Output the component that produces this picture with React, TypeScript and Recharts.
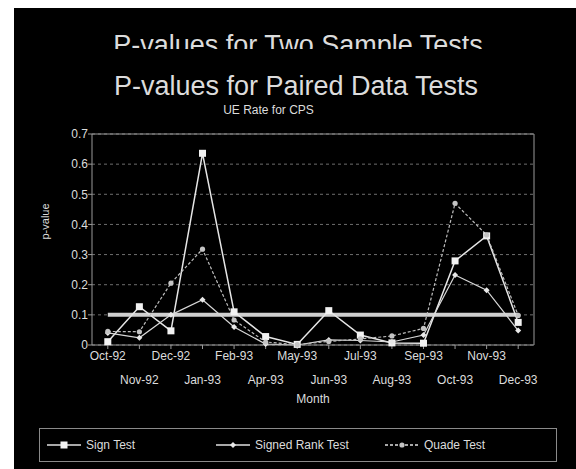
import React from "react";
import {
  LineChart,
  Line,
  XAxis,
  YAxis,
  CartesianGrid,
  ReferenceLine,
  Legend,
} from "recharts";

const MONTHS = [
  "Oct-92", "Nov-92", "Dec-92", "Jan-93", "Feb-93", "Apr-93", "May-93",
  "Jun-93", "Jul-93", "Aug-93", "Sep-93", "Oct-93", "Nov-93", "Dec-93",
];
const SIGN_TEST = [0.011, 0.127, 0.047, 0.636, 0.11, 0.028, 0.002, 0.114, 0.033, 0.007, 0.006, 0.279, 0.362, 0.075];
const SIGNED_RANK_TEST = [0.04, 0.024, 0.1, 0.15, 0.06, 0.003, 0.0, 0.017, 0.015, 0.01, 0.033, 0.232, 0.182, 0.048];
const QUADE_TEST = [0.045, 0.044, 0.205, 0.318, 0.083, 0.01, 0.001, 0.012, 0.02, 0.03, 0.055, 0.47, 0.365, 0.098];
const Y_TICKS = [0, 0.1, 0.2, 0.3, 0.4, 0.5, 0.6, 0.7];
const THRESHOLD = 0.1;

const data = MONTHS.map((month, i) => ({
  month,
  sign: SIGN_TEST[i],
  rank: SIGNED_RANK_TEST[i],
  quade: QUADE_TEST[i],
}));

const FONT = "'Liberation Sans', Arial, sans-serif";
const TEXT = "#dcdcdc";
const AXIS = "#9a9a9a";

function SquareDot(props: any) {
  const { cx, cy, index } = props;
  if (cx == null || cy == null) return null;
  return <rect key={`sq-${index}`} x={cx - 3.5} y={cy - 3.5} width={7} height={7} fill="#f2f2f2" />;
}

function DiamondDot(props: any) {
  const { cx, cy, index } = props;
  if (cx == null || cy == null) return null;
  return (
    <path
      key={`dm-${index}`}
      d={`M${cx},${cy - 3} L${cx + 3},${cy} L${cx},${cy + 3} L${cx - 3},${cy} Z`}
      fill="#e8e8e8"
    />
  );
}

function CircleDot(props: any) {
  const { cx, cy, index } = props;
  if (cx == null || cy == null) return null;
  return <circle key={`ci-${index}`} cx={cx} cy={cy} r={2.6} fill="#c4c4c4" />;
}

function MonthTick(props: any) {
  const { x, y, payload, index } = props;
  return (
    <text
      x={x}
      y={y}
      dy={index % 2 === 0 ? 9 : 33}
      textAnchor="middle"
      fill={TEXT}
      fontSize={12}
    >
      {payload.value}
    </text>
  );
}

// where each legend entry sits inside the box
const LEGEND_SLOTS: Record<string, { line: number; text: number }> = {
  sign: { line: 7, text: 46 },
  rank: { line: 176, text: 215 },
  quade: { line: 345, text: 384 },
};

function LegendMarker({ kind }: { kind: string }) {
  return (
    <svg width={34} height={10} style={{ display: "block" }}>
      <line
        x1={0}
        x2={34}
        y1={5}
        y2={5}
        stroke="#e0e0e0"
        strokeWidth={1.5}
        strokeDasharray={kind === "quade" ? "3 2" : undefined}
      />
      {kind === "sign" && <rect x={13.5} y={1.5} width={7} height={7} fill="#f2f2f2" />}
      {kind === "rank" && <path d="M17,2 L20,5 L17,8 L14,5 Z" fill="#e8e8e8" />}
      {kind === "quade" && <circle cx={17} cy={5} r={2.6} fill="#c4c4c4" />}
    </svg>
  );
}

function LegendBox({ payload }: any) {
  return (
    <div
      style={{
        position: "relative",
        width: 518,
        height: 34,
        border: "1.5px solid #8a8a8a",
        boxSizing: "border-box",
      }}
    >
      {(payload || []).map((p: any) => {
        const slot = LEGEND_SLOTS[p.dataKey] || LEGEND_SLOTS.sign;
        return (
          <React.Fragment key={p.value}>
            <div style={{ position: "absolute", left: slot.line, top: 11 }}>
              <LegendMarker kind={p.dataKey} />
            </div>
            <div
              style={{
                position: "absolute",
                left: slot.text,
                top: 9,
                fontSize: 12,
                lineHeight: "14px",
                color: TEXT,
                whiteSpace: "nowrap",
              }}
            >
              {p.value}
            </div>
          </React.Fragment>
        );
      })}
    </div>
  );
}

export default function App() {
  return (
    <div
      style={{
        position: "absolute",
        left: 14,
        top: 8,
        width: 562,
        height: 461,
        background: "#000",
        fontFamily: FONT,
        overflow: "hidden",
      }}
    >
      <LineChart
        width={562}
        height={461}
        data={data}
        margin={{ top: 126, right: 41, left: 24, bottom: 30 }}
      >
        <CartesianGrid vertical={false} stroke="#6e6e6e" strokeDasharray="3 3" />
        <XAxis
          dataKey="month"
          interval={0}
          height={60}
          padding={{ left: 15.8, right: 15.8 }}
          tick={<MonthTick />}
          tickSize={4}
          tickMargin={2}
          axisLine={{ stroke: AXIS }}
          tickLine={{ stroke: AXIS }}
          label={{ value: "Month", position: "insideBottom", offset: 2, fill: TEXT, fontSize: 12 }}
        />
        <YAxis
          domain={[0, 0.7]}
          ticks={Y_TICKS}
          width={54}
          tickSize={4}
          tickMargin={0}
          tick={{ fill: TEXT, fontSize: 12 }}
          axisLine={{ stroke: AXIS }}
          tickLine={{ stroke: AXIS }}
          label={{ value: "p-value", angle: -90, position: "insideLeft", offset: 7, fill: TEXT, fontSize: 11 }}
        />
        <YAxis
          yAxisId="right"
          orientation="right"
          domain={[0, 0.7]}
          width={1}
          tick={false}
          tickLine={false}
          axisLine={{ stroke: AXIS }}
        />
        <ReferenceLine y={0.7} stroke={AXIS} />
        <ReferenceLine
          segment={[
            { x: MONTHS[0], y: THRESHOLD },
            { x: MONTHS[MONTHS.length - 1], y: THRESHOLD },
          ]}
          stroke="#cfcfcf"
          strokeWidth={4}
        />
        <Line
          dataKey="sign"
          name="Sign Test"
          stroke="#e6e6e6"
          strokeWidth={1.5}
          dot={SquareDot}
          isAnimationActive={false}
        />
        <Line
          dataKey="rank"
          name="Signed Rank Test"
          stroke="#d8d8d8"
          strokeWidth={1.2}
          dot={DiamondDot}
          isAnimationActive={false}
        />
        <Line
          dataKey="quade"
          name="Quade Test"
          stroke="#bdbdbd"
          strokeWidth={1.2}
          strokeDasharray="3 2"
          dot={CircleDot}
          isAnimationActive={false}
        />
        <Legend
          content={<LegendBox />}
          wrapperStyle={{ left: 25, top: 420, width: 518, height: 34 }}
        />
      </LineChart>

      <div style={{ position: "absolute", left: 0, top: 0, width: 562, height: 41, overflow: "hidden", pointerEvents: "none" }}>
        <div style={{ position: "absolute", left: 0, width: 568, top: 23.5, textAlign: "center", fontSize: 27, lineHeight: 1, color: TEXT, whiteSpace: "nowrap" }}>
          P-values for Two Sample Tests
        </div>
      </div>
      <div style={{ position: "absolute", left: 0, width: 564, top: 64.5, textAlign: "center", fontSize: 27, lineHeight: 1, color: TEXT, whiteSpace: "nowrap", pointerEvents: "none" }}>
        P-values for Paired Data Tests
      </div>
      <div style={{ position: "absolute", left: 0, width: 509, top: 96, textAlign: "center", fontSize: 12, lineHeight: 1, color: TEXT, whiteSpace: "nowrap", pointerEvents: "none" }}>
        UE Rate for CPS
      </div>
    </div>
  );
}
